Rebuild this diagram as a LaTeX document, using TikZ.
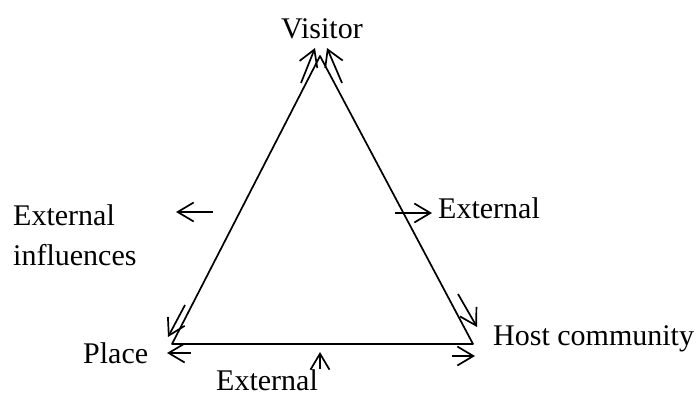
\documentclass[tikz,border=0pt]{standalone}
\usepackage{fontspec}
\setmainfont{Liberation Serif}
\usetikzlibrary{arrows.meta}
\begin{document}
\begin{tikzpicture}[x=1pt,y=-1pt,
  edge/.style={line width=1.7pt,line join=round},
  flow/.style={line width=1.7pt,-{Straight Barb[length=16pt,width=19pt]}},
  lbl/.style={inner sep=0pt,font=\fontsize{30}{40}\selectfont}]
\useasboundingbox (0,0) rectangle (700,396);

% corners of the triangle
\coordinate (V) at (320,56);
\coordinate (P) at (172,344);
\coordinate (H) at (473,344);

% labels
\node[lbl,anchor=base] (vis) at (322,38) {Visitor};
\node[lbl,anchor=base west,align=left] (infl) at (13,265) {External\\influences};
\node[lbl,anchor=base west] (extR) at (438,218) {External};
\node[lbl,anchor=base west] (place) at (83,363) {Place};
\node[lbl,anchor=base west] (host) at (493,345) {Host community};
\node[lbl,anchor=base west] (extB) at (216,390) {External};

% triangle
\draw[edge] (P) -- (V) -- (H) -- cycle;

% flows along the sides, near the corners
\coordinate (a1s) at (301,83);  \coordinate (a1e) at (315,48);
\coordinate (a2s) at (342,83);  \coordinate (a2e) at (327,48);
\coordinate (a3s) at (185,305); \coordinate (a3e) at (168,337);
\coordinate (a4s) at (191,353); \coordinate (a4e) at (167,353);
\coordinate (a5s) at (452,356); \coordinate (a5e) at (475,356);
\coordinate (a6s) at (458,294); \coordinate (a6e) at (477,327);
\draw[flow] (a1s) -- (a1e);
\draw[flow] (a2s) -- (a2e);
\draw[flow] (a3s) -- (a3e);
\draw[flow] (a4s) -- (a4e);
\draw[flow] (a5s) -- (a5e);
\draw[flow] (a6s) -- (a6e);

% external influences
\coordinate (e1s) at (213,212); \coordinate (e1e) at (176,212);
\coordinate (e2s) at (395,213); \coordinate (e2e) at (432,213);
\coordinate (e3s) at (320,369); \coordinate (e3e) at (320,352);
\draw[flow] (e1s) -- (e1e);
\draw[flow] (e2s) -- (e2e);
\draw[flow] (e3s) -- (e3e);
\end{tikzpicture}
\end{document}
